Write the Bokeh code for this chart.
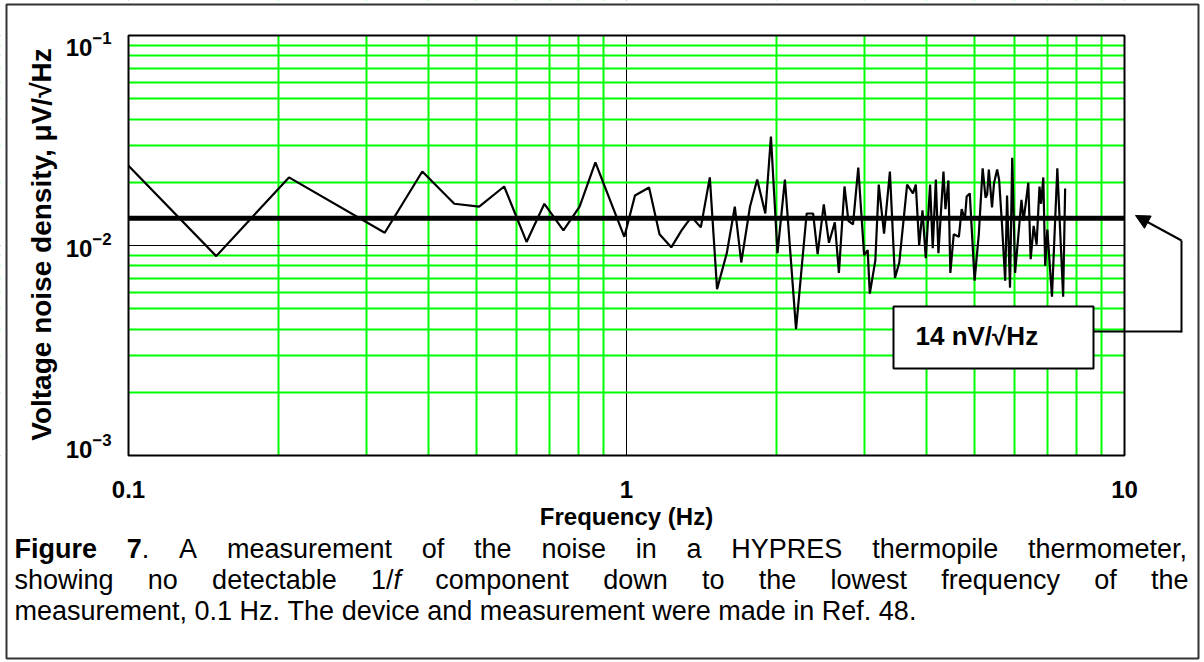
from bokeh.plotting import figure
from bokeh.models import (Range1d, LogAxis, LogScale, FixedTicker, Label,
                          BoxAnnotation, Arrow, NormalHead)
from bokeh.embed import file_html
from bokeh.resources import INLINE

# ---------------- data ----------------
freq_hz = [0.100, 0.150, 0.210, 0.327, 0.389, 0.451, 0.506, 0.568, 0.630, 0.684,
           0.747, 0.805, 0.866, 0.990, 1.04, 1.11, 1.165, 1.23, 1.29, 1.35,
           1.41, 1.47, 1.52, 1.59, 1.65, 1.70, 1.77, 1.83, 1.90, 1.95,
           2.01, 2.08, 2.19, 2.30, 2.37, 2.42, 2.49, 2.55, 2.62, 2.67,
           2.74, 2.79, 2.85, 2.92, 3.00, 3.05, 3.08, 3.16, 3.21, 3.29,
           3.38, 3.46, 3.53, 3.66, 3.76, 3.81, 3.87, 3.93, 3.99, 4.07,
           4.12, 4.18, 4.23, 4.33, 4.37, 4.43, 4.47, 4.54, 4.65, 4.71,
           4.78, 4.82, 4.89, 5.00, 5.10, 5.19, 5.26, 5.30, 5.34, 5.42,
           5.47, 5.55, 5.60, 5.67, 5.76, 5.81, 5.89, 5.95, 6.03, 6.21,
           6.27, 6.41, 6.48, 6.57, 6.66, 6.75, 6.80, 6.87, 6.93, 7.00,
           7.15, 7.33, 7.53, 7.60]
noise_uv = [0.0240, 0.0089, 0.0211, 0.0115, 0.0225, 0.0158, 0.0153, 0.0191, 0.0104, 0.0158,
            0.0118, 0.0153, 0.0249, 0.0110, 0.0173, 0.0189, 0.0113, 0.0098, 0.0118, 0.0137,
            0.0122, 0.0211, 0.0062, 0.0092, 0.0153, 0.0083, 0.0153, 0.0206, 0.0142, 0.0330,
            0.0092, 0.0206, 0.0040, 0.0142, 0.0142, 0.0091, 0.0157, 0.0103, 0.0129, 0.0074,
            0.0191, 0.0131, 0.0126, 0.0235, 0.0090, 0.0095, 0.0059, 0.0085, 0.0195, 0.0114,
            0.0225, 0.0070, 0.0083, 0.0195, 0.0177, 0.0195, 0.0100, 0.0147, 0.0087, 0.0195,
            0.0097, 0.0206, 0.0092, 0.0225, 0.0149, 0.0204, 0.0074, 0.0113, 0.0110, 0.0149,
            0.0133, 0.0171, 0.0177, 0.0068, 0.0114, 0.0233, 0.0169, 0.0175, 0.0230, 0.0152,
            0.0198, 0.0230, 0.0206, 0.0131, 0.0068, 0.0173, 0.0063, 0.0262, 0.0074, 0.0165,
            0.0131, 0.0199, 0.0086, 0.0124, 0.0101, 0.0191, 0.0158, 0.0211, 0.0080, 0.0119,
            0.0057, 0.0233, 0.0057, 0.0187]
mean_level = 0.0135          # 14 nV/sqrt(Hz) reference level, in uV/sqrt(Hz)

x_major = [0.1, 1, 10]
x_minor = [0.2, 0.3, 0.4, 0.5, 0.6, 0.7, 0.8, 0.9, 2, 3, 4, 5, 6, 7, 8, 9]
x_tick_labels = {0.1: "0.1", 1: "1", 10: "10"}
y_major = [0.001, 0.01, 0.1]
y_minor = [0.002, 0.003, 0.004, 0.005, 0.006, 0.007, 0.008, 0.009,
           0.02, 0.03, 0.04, 0.05, 0.06, 0.07, 0.08, 0.09]

x_title = "Frequency (Hz)"
y_title = "Voltage noise density, \u03bcV/\u221aHz"
box_text = "14 nV/\u221aHz"
caption_lines = [
    [[("Figure", "b")], [("7", "b"), (".", "n")], [("A", "n")], [("measurement", "n")],
     [("of", "n")], [("the", "n")], [("noise", "n")], [("in", "n")], [("a", "n")],
     [("HYPRES", "n")], [("thermopile", "n")], [("thermometer,", "n")]],
    [[("showing", "n")], [("no", "n")], [("detectable", "n")], [("1/", "n"), ("f", "i")],
     [("component", "n")], [("down", "n")], [("to", "n")], [("the", "n")], [("lowest", "n")],
     [("frequency", "n")], [("of", "n")], [("the", "n")]],
    [[("measurement,", "n")], [("0.1", "n")], [("Hz.", "n")], [("The", "n")], [("device", "n")],
     [("and", "n")], [("measurement", "n")], [("were", "n")], [("made", "n")], [("in", "n")],
     [("Ref.", "n")], [("48.", "n")]],
]

FONT = "Liberation Sans"
GREEN = "#00ff00"

# ---------------- layout geometry (pixels) ----------------
W, H = 1204, 662
PL, PR, PT, PB = 128, 1124, 35, 455          # plot area inside the canvas
LAB_T, LAB_B = 43, 445                        # where the 1e-1 / 1e-3 labels sit

xdec = (PR - PL) / 2.0
ydec = (PB - PT) / 2.0
ldec = (LAB_B - LAB_T) / 2.0
x_lo = x_major[0] * 10 ** (-PL / xdec)
x_hi = x_major[-1] * 10 ** ((W - PR) / xdec)
y_hi = y_major[-1] * 10 ** (PT / ydec)
y_lo = y_major[0] * 10 ** (-(H - PB) / ydec)
l_hi = y_major[-1] * 10 ** (LAB_T / ldec)
l_lo = y_major[0] * 10 ** (-(H - LAB_B) / ldec)

# the frame covers the whole canvas; axes are pinned at the plot-area edges
p = figure(width=W, height=H, x_axis_type="log", y_axis_type="log",
           x_axis_location=None, y_axis_location=None,
           x_range=Range1d(x_lo, x_hi), y_range=Range1d(y_lo, y_hi),
           output_backend="svg", toolbar_location=None,
           min_border_left=0, min_border_right=0, min_border_top=0, min_border_bottom=0)
p.background_fill_color = "white"
p.border_fill_color = "white"
p.outline_line_color = None

# grids
p.xgrid.ticker = FixedTicker(ticks=x_major, minor_ticks=x_minor)
p.ygrid.ticker = FixedTicker(ticks=y_major, minor_ticks=y_minor)
for g in (p.xgrid, p.ygrid):
    g.grid_line_color = "black"
    g.grid_line_width = 1
    g.minor_grid_line_color = GREEN
    g.minor_grid_line_width = 2

# white masks that trim the grid to the plot area
for kw in (dict(right=x_major[0]), dict(left=x_major[-1]),
           dict(bottom=y_major[-1]), dict(top=y_major[0])):
    p.add_layout(BoxAnnotation(level="underlay", fill_color="white", fill_alpha=1.0,
                               line_color=None, **kw))

# x axis
xa = LogAxis(fixed_location=y_major[0], ticker=FixedTicker(ticks=x_major),
             bounds=(x_major[0], x_major[-1]))
xa.major_label_overrides = x_tick_labels
xa.axis_line_color = None
xa.major_tick_line_color = None
xa.minor_tick_line_color = None
xa.major_label_standoff = 19
xa.major_label_text_font = FONT
xa.major_label_text_font_size = "24px"
xa.major_label_text_font_style = "bold"
xa.major_label_text_color = "black"
xa.axis_label = x_title
xa.axis_label_standoff = 2
xa.axis_label_text_font = FONT
xa.axis_label_text_font_size = "24px"
xa.axis_label_text_font_style = "bold"
xa.axis_label_text_color = "black"
p.add_layout(xa, "below")

# y axis (labels sit slightly inside the end ticks, as in the original)
p.extra_y_ranges = {"lab": Range1d(l_lo, l_hi)}
p.extra_y_scales = {"lab": LogScale()}
ya = LogAxis(y_range_name="lab", fixed_location=x_major[0], ticker=FixedTicker(ticks=y_major),
             bounds=(y_major[0], y_major[-1]))
ya.axis_line_color = None
ya.major_tick_line_color = None
ya.minor_tick_line_color = None
ya.major_label_standoff = 11
ya.major_label_text_font = FONT
ya.major_label_text_font_size = "24px"
ya.major_label_text_font_style = "bold"
ya.major_label_text_color = "black"
ya.axis_label = y_title
ya.axis_label_standoff = 6
ya.axis_label_text_font = FONT
ya.axis_label_text_font_size = "28px"
ya.axis_label_text_font_style = "bold"
ya.axis_label_text_color = "black"
p.add_layout(ya, "left")

# data
p.line(freq_hz, noise_uv, line_color="black", line_width=2.2)
p.line([x_major[0], x_major[-1]], [mean_level, mean_level], line_color="black", line_width=5)

# plot-area border
p.add_layout(BoxAnnotation(left=x_major[0], right=x_major[-1], bottom=y_major[0], top=y_major[-1],
                           fill_alpha=0, line_color="black", line_width=2, line_alpha=1.0))

# annotation box + connector
p.add_layout(BoxAnnotation(left=893, right=1093, top=306, bottom=368,
                           left_units="canvas", right_units="canvas",
                           top_units="canvas", bottom_units="canvas",
                           fill_color="white", fill_alpha=1.0,
                           line_color="black", line_width=2, line_alpha=1.0))
p.add_layout(Label(x=915, y=335, x_units="canvas", y_units="canvas", text=box_text,
                   text_font=FONT, text_font_size="26px", text_font_style="bold",
                   text_baseline="middle", text_align="left", text_color="black"))
for (x0, y0, x1, y1) in [(1093, 331, 1181, 331), (1181, 332, 1181, 240)]:
    p.add_layout(Arrow(x_start=x0, y_start=y0, x_end=x1, y_end=y1, start=None, end=None,
                       start_units="canvas", end_units="canvas",
                       line_color="black", line_width=2))
p.add_layout(Arrow(x_start=1181, y_start=240, x_end=1135, y_end=215,
                   start_units="canvas", end_units="canvas",
                   end=NormalHead(size=14, fill_color="black", line_color="black"),
                   line_color="black", line_width=2))

# outer frame of the figure
p.add_layout(BoxAnnotation(left=6, right=1198, top=4, bottom=658,
                           left_units="canvas", right_units="canvas",
                           top_units="canvas", bottom_units="canvas",
                           fill_alpha=0, line_color="#333333", line_width=2, line_alpha=1.0))

# caption (justified using Arial / Liberation Sans advance widths)
REG = dict(zip(" .,/0123456789", [278, 278, 278, 278] + [556] * 10))
REG.update(dict(zip("ABCDEFGHIJKLMNOPQRSTUVWXYZ",
                    [667, 667, 722, 722, 667, 611, 778, 722, 278, 500, 667, 556, 833, 722, 778,
                     667, 778, 722, 667, 611, 722, 667, 944, 667, 667, 611])))
REG.update(dict(zip("abcdefghijklmnopqrstuvwxyz",
                    [556, 556, 500, 556, 556, 278, 556, 556, 222, 222, 500, 222, 833, 556, 556,
                     556, 556, 333, 500, 278, 556, 500, 722, 500, 500, 500])))
BOLD = dict(REG)
BOLD.update({"F": 611, "i": 278, "g": 611, "u": 611, "r": 389, "e": 556, "7": 556})
CAP_SIZE = 27
CAP_LEFT, CAP_RIGHT = 14, 1188
CAP_Y = [548, 579, 610]


def seg_w(text, style):
    tbl = BOLD if style == "b" else REG
    return sum(tbl.get(c, 556) for c in text) * CAP_SIZE / 1000.0


for li, words in enumerate(caption_lines):
    widths = [sum(seg_w(t, s) for t, s in w) for w in words]
    if li < len(caption_lines) - 1:
        gap = (CAP_RIGHT - CAP_LEFT - sum(widths)) / (len(words) - 1)
    else:
        gap = 278 * CAP_SIZE / 1000.0
    x = CAP_LEFT
    for w, ww in zip(words, widths):
        xs = x
        for t, s in w:
            p.add_layout(Label(x=xs, y=CAP_Y[li], x_units="canvas", y_units="canvas", text=t,
                               text_font=FONT, text_font_size=f"{CAP_SIZE}px",
                               text_font_style={"b": "bold", "i": "italic", "n": "normal"}[s],
                               text_baseline="middle", text_align="left", text_color="black"))
            xs += seg_w(t, s)
        x += ww + gap

open("out.html", "w").write(file_html(p, INLINE))
